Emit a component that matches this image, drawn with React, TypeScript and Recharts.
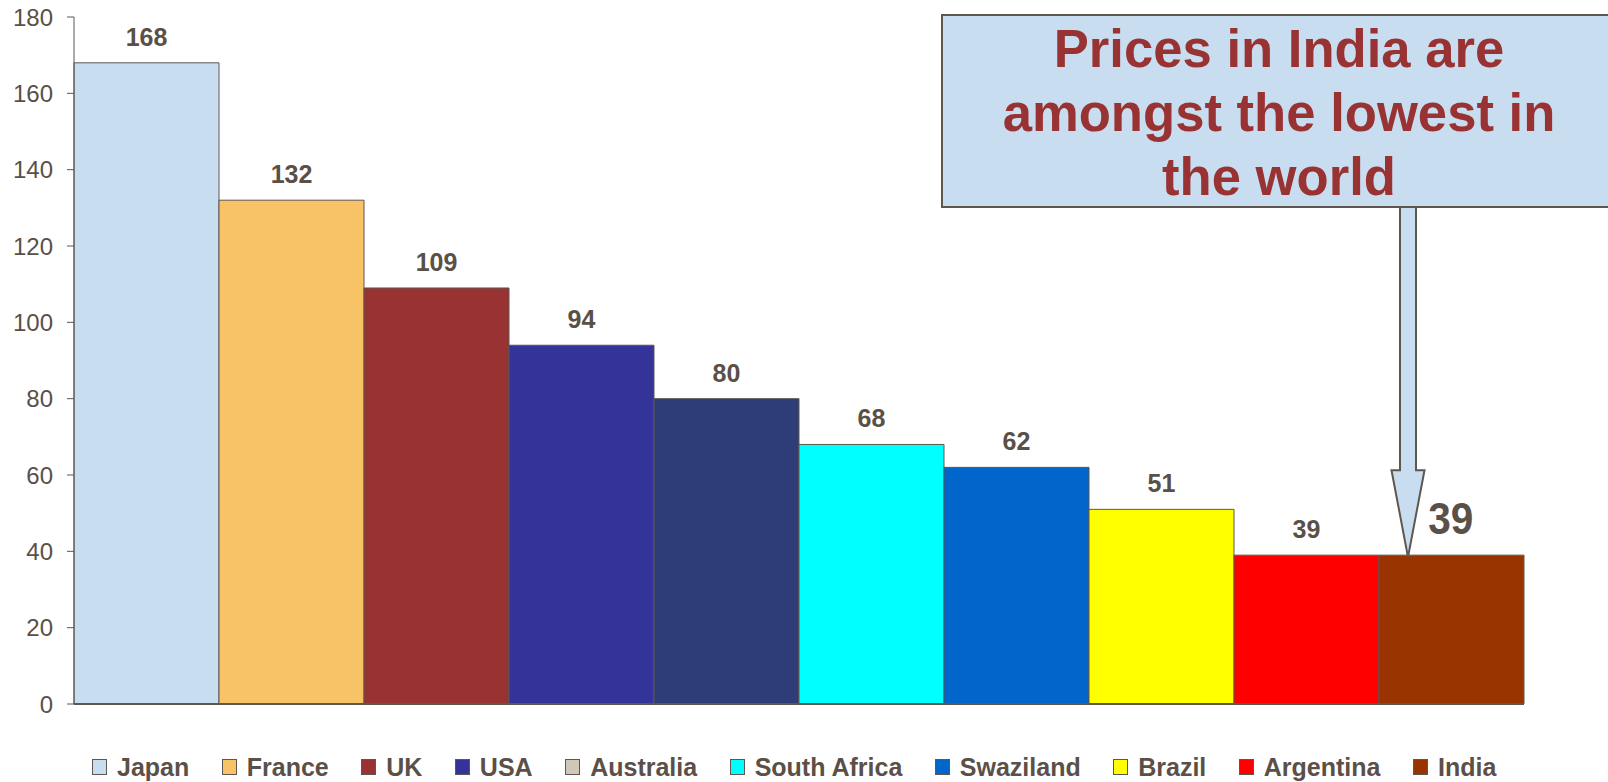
import React from 'react';
import { BarChart, Bar, XAxis, YAxis, Legend, LabelList } from 'recharts';

// price index by country
const categories = ['Japan', 'France', 'UK', 'USA', 'Australia', 'South Africa', 'Swaziland', 'Brazil', 'Argentina', 'India'];
const prices = [168, 132, 109, 94, 80, 68, 62, 51, 39, 39];
const barColors = ['#C9DDF0', '#F8C266', '#993333', '#333399', '#2E3D78', '#00FFFF', '#0066CC', '#FFFF00', '#FF0000', '#993300'];
const legendColors = ['#C9DDF0', '#F8C266', '#993333', '#333399', '#CFC7B8', '#00FFFF', '#0066CC', '#FFFF00', '#FF0000', '#993300'];
const yTicks = [0, 20, 40, 60, 80, 100, 120, 140, 160, 180];
const calloutLines = ['Prices in India are', 'amongst the lowest in', 'the world'];

const FONT = "'Liberation Sans', Arial, sans-serif";
const INK = '#5a5048';
const EDGE = '#5e5750';

const data = [
  categories.reduce((row: Record<string, any>, c, i) => {
    row[c] = prices[i];
    return row;
  }, { name: 'Price' }),
];

// callout box + arrow pointing at the India bar, plus its big value label
function IndiaCallout(props: any) {
  const { x, y, width, value } = props;
  const boxTop = 15;
  const boxBottom = 207;
  const tipX = x + width * 0.2;
  const shaft = 8;
  const head = 16.5;
  const headTop = y - 85;
  const pts = [
    [tipX - shaft, boxBottom],
    [tipX + shaft, boxBottom],
    [tipX + shaft, headTop],
    [tipX + head, headTop],
    [tipX, y + 2],
    [tipX - head, headTop],
    [tipX - shaft, headTop],
  ].map(p => p.join(',')).join(' ');
  const numX = x + width * 0.34;
  const numY = y - 21;
  return (
    <g>
      <rect x={942} y={boxTop} width={680} height={boxBottom - boxTop} fill="#C9DDF0" stroke={EDGE} strokeWidth={2} />
      {calloutLines.map((line, i) => (
        <text key={i} x={1279} y={67 + i * 64} textAnchor="middle" fill="#993333"
          fontFamily={FONT} fontWeight="bold" fontSize={54}
          transform={`translate(1279,0) scale(0.975,1) translate(-1279,0)`}>
          {line}
        </text>
      ))}
      <polygon points={pts} fill="#C9DDF0" stroke={EDGE} strokeWidth={2} />
      <text x={0} y={0} fill={INK} fontFamily={FONT} fontWeight="bold" fontSize={45}
        transform={`translate(${numX},${numY}) scale(0.9,1)`}>
        {value}
      </text>
    </g>
  );
}

function LegendRow() {
  return (
    <div style={{ display: 'flex', justifyContent: 'flex-start', alignItems: 'center', height: 30, gap: 32.5, paddingLeft: 92, fontFamily: FONT, whiteSpace: 'nowrap' }}>
      {categories.map((c, i) => (
        <div key={c} style={{ display: 'flex', alignItems: 'center' }}>
          <span style={{ width: 13, height: 14, background: legendColors[i], border: `1px solid ${EDGE}`, marginRight: 10, display: 'inline-block' }} />
          <span style={{ fontSize: 25, fontWeight: 'bold', color: INK, lineHeight: '30px' }}>{c}</span>
        </div>
      ))}
    </div>
  );
}

export default function App() {
  return (
    <div style={{ position: 'fixed', left: 0, top: 0, width: 1608, height: 782, background: '#fff' }}>
      <BarChart width={1608} height={782} data={data} margin={{ top: 17, right: 84, bottom: 0, left: 0 }}
        barCategoryGap={0} barGap={0}>
        <XAxis dataKey="name" tick={false} tickLine={false} height={48} axisLine={{ stroke: EDGE, strokeWidth: 2 }} />
        <YAxis domain={[0, 180]} ticks={yTicks} interval={0} width={74} tickSize={7} tickMargin={14}
          axisLine={{ stroke: EDGE }} tickLine={{ stroke: EDGE }}
          tick={{ fill: INK, fontSize: 24, fontFamily: FONT }} />
        <Legend verticalAlign="bottom" content={() => <LegendRow />} />
        {categories.map((c, i) => (
          <Bar key={c} dataKey={c} fill={barColors[i]} stroke={EDGE} strokeWidth={1} isAnimationActive={false}>
            {c === 'India'
              ? <LabelList dataKey={c} content={<IndiaCallout />} />
              : <LabelList dataKey={c} position="top" offset={17} fill={INK} fontSize={25} fontWeight="bold" fontFamily={FONT} />}
          </Bar>
        ))}
      </BarChart>
    </div>
  );
}
